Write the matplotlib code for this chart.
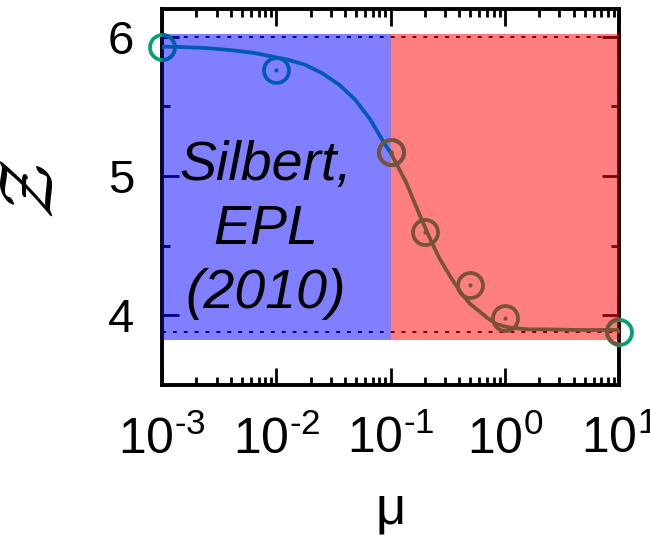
import numpy as np
import matplotlib
matplotlib.use("Agg")
import matplotlib.pyplot as plt
from matplotlib.ticker import LogLocator, FixedLocator, NullFormatter, FuncFormatter

plt.rcParams['font.family'] = ['Liberation Sans', 'DejaVu Sans']
plt.rcParams['axes.unicode_minus'] = False
plt.rcParams['mathtext.fontset'] = 'custom'
plt.rcParams['mathtext.rm'] = 'Liberation Sans'
plt.rcParams['mathtext.it'] = 'Liberation Sans:italic'

# ---- data ----
blue_mu = [1e-3, 1e-2, 1e-1]
blue_z = [5.93, 5.76, 5.17]
brown_mu = [0.1, 0.2, 0.5, 1.0, 10.0]
brown_z = [5.17, 4.60, 4.22, 3.98, 3.89]
green_mu = [1e-3, 10.0]
green_z = [5.93, 3.88]

# fitted curves
blue_curve_logmu = [-3.0, -2.8, -2.62, -2.4, -2.19, -1.90, -1.75, -1.60, -1.45,
                    -1.31, -1.18, -1.05, -1.0]
blue_curve_z = [5.93, 5.926, 5.92, 5.905, 5.884, 5.836, 5.80, 5.74, 5.657,
                5.55, 5.41, 5.23, 5.17]
brown_curve_logmu = [-1.0, -0.93, -0.863, -0.79, -0.718, -0.645, -0.572, -0.47, -0.368,
                     -0.30, -0.223, -0.15, -0.077, 0.0, 0.068, 0.20, 0.36, 0.65, 1.0]
brown_curve_z = [5.17, 5.06, 4.955, 4.81, 4.67, 4.535, 4.41, 4.27, 4.145,
                 4.08, 4.03, 3.98, 3.94, 3.92, 3.91, 3.90, 3.90, 3.895, 3.895]

z_upper = 6.0
z_lower = 3.88
band_low = 3.82
band_high = 6.02

xticks = [1e-3, 1e-2, 1e-1, 1e0, 1e1]
yticks = [4, 5, 6]
yminor = [3.5, 4.5, 5.5]

blue_c = '#005ab2'
brown_c = '#7a5236'
green_c = '#00a077'

fig = plt.figure(figsize=(6.5, 5.35), dpi=100)
ax = fig.add_axes([162/650, 1-385/535, (619-162)/650, (385-9)/535])
ax.set_xscale('log')
ax.set_xlim(1e-3, 1e1)
ax.set_ylim(3.5, 6.2)

# dashed reference lines (under shading)
ax.plot([1e-3, 1e1], [z_upper, z_upper], color='black', lw=1.4, dashes=(2, 3.6), zorder=2)
ax.plot([1e-3, 1e1], [z_lower, z_lower], color='black', lw=1.4, dashes=(2, 3.6), zorder=2)

# shaded regions on top of spines/ticks
ax.fill_between([1e-3, 1e-1], band_low, band_high, color='blue', alpha=0.5, lw=0, zorder=3)
ax.fill_between([1e-1, 1e1], band_low, band_high, color='red', alpha=0.5, lw=0, zorder=3)

# curves
ax.plot(10**np.array(blue_curve_logmu), blue_curve_z, color=blue_c, lw=2.7, zorder=5,
        solid_capstyle='butt', solid_joinstyle='round')
ax.plot(10**np.array(brown_curve_logmu), brown_curve_z, color=brown_c, lw=2.7, zorder=5,
        solid_capstyle='butt', solid_joinstyle='round')

# markers
ms = 18
mew = 2.7
ax.plot(green_mu, green_z, 'o', ms=ms, mfc='none', mec=green_c, mew=mew, zorder=4, clip_on=False)
ax.plot(blue_mu, blue_z, 'o', ms=ms, mfc='none', mec=blue_c, mew=mew, zorder=6)
ax.plot(blue_mu, blue_z, 'o', ms=3.0, mfc=blue_c, mec=blue_c, mew=0, zorder=6)
ax.plot(brown_mu, brown_z, 'o', ms=ms, mfc='none', mec=brown_c, mew=mew, zorder=6)
ax.plot(brown_mu, brown_z, 'o', ms=3.0, mfc=brown_c, mec=brown_c, mew=0, zorder=6)

# annotation
ax.text(10**-2.09, 4.61, 'Silbert,\nEPL\n(2010)', ha='center', va='center',
        fontsize=40, style='italic', linespacing=1.3, zorder=7)

# ticks
def fmt(v, p):
    e = int(round(np.log10(v)))
    if e < 0:
        return r'$\mathdefault{10^{\text{-}%d}}$' % (-e)
    return r'$\mathdefault{10^{%d}}$' % e

ax.xaxis.set_major_locator(FixedLocator(xticks))
ax.xaxis.set_minor_locator(LogLocator(base=10, subs=np.arange(2, 10) * 1.0, numticks=20))
ax.xaxis.set_minor_formatter(NullFormatter())
ax.xaxis.set_major_formatter(FuncFormatter(fmt))
ax.yaxis.set_major_locator(FixedLocator(yticks))
ax.yaxis.set_minor_locator(FixedLocator(yminor))
ax.set_yticklabels([str(t) for t in yticks])

ax.tick_params(which='both', direction='in', top=True, right=True, color='black')
ax.tick_params(which='major', length=12, width=2.0)
ax.tick_params(which='minor', length=6, width=2.0)
ax.tick_params(axis='x', which='major', labelsize=36, pad=22)
ax.tick_params(axis='y', which='major', labelsize=34, pad=20)

for s in ax.spines.values():
    s.set_linewidth(2.8)
    s.set_zorder(2.5)

ax.set_xlabel('μ', fontsize=38)
ax.xaxis.set_label_coords(0.5, -0.265)
ax.set_ylabel(r'$\mathcal{Z}$', fontsize=54, math_fontfamily='cm', rotation=90)
ax.yaxis.set_label_coords(-0.205, 0.52)

fig.savefig('out.png', dpi=100)
